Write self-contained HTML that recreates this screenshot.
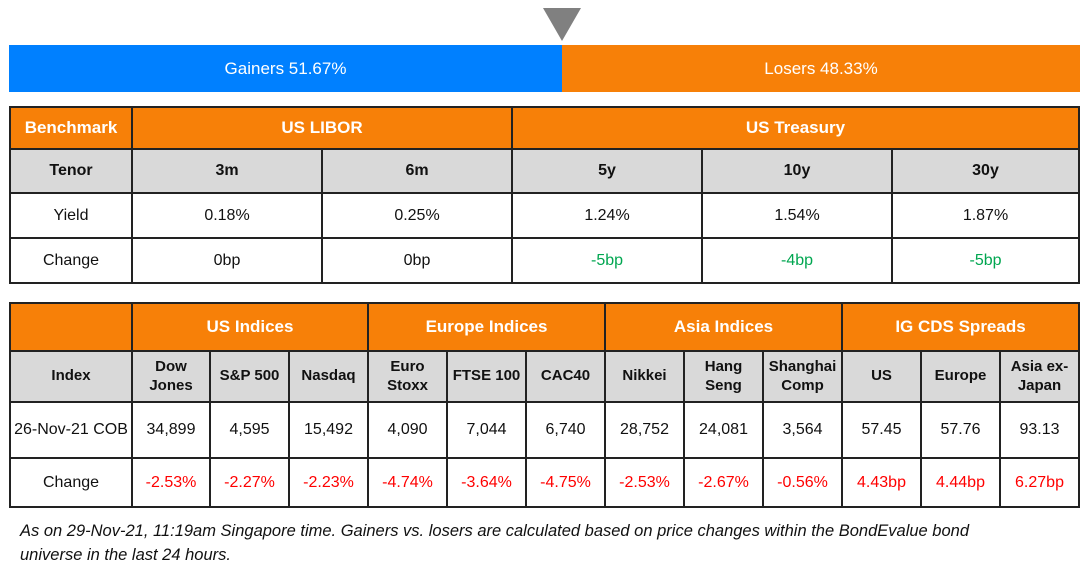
<!DOCTYPE html>
<html><head><meta charset="utf-8">
<style>
body{margin:0;width:1089px;height:569px;background:#fff;position:relative;overflow:hidden;font-family:"Liberation Sans",sans-serif;}
.c{position:absolute;box-sizing:border-box;display:flex;align-items:center;justify-content:center;text-align:center;font-size:16px;color:#111;line-height:1.25;}
.o{background:#f78008;color:#fff;font-weight:bold;font-size:17px;}
.g{background:#d9d9d9;font-weight:bold;}
.bd{border-right:2px solid #222;border-bottom:2px solid #222;}
.grn{color:#00a650}.red{color:#f00}
</style></head><body>
<div style="position:absolute;left:543px;top:8px;width:0;height:0;border-left:19px solid transparent;border-right:19px solid transparent;border-top:33px solid #808080;"></div>
<div class="c" style="left:9px;top:45px;width:553px;height:47px;background:#0080ff;color:#fff;font-size:17px;">Gainers 51.67%</div>
<div class="c" style="left:562px;top:45px;width:518px;height:47px;background:#f78008;color:#fff;font-size:17px;">Losers 48.33%</div>
<div id="t1" style="position:absolute;left:9px;top:106px;width:1071px;height:178px;border-left:2px solid #222;border-top:2px solid #222;box-sizing:border-box"></div>
<div id="t2" style="position:absolute;left:9px;top:302px;width:1071px;height:206px;border-left:2px solid #222;border-top:2px solid #222;box-sizing:border-box"></div>
<div style="position:absolute;left:20px;top:519px;width:1000px;font-style:italic;font-size:16.5px;line-height:24px;color:#111;">As on 29-Nov-21, 11:19am Singapore time. Gainers vs. losers are calculated based on price changes within the BondEvalue bond universe in the last 24 hours.</div>
<script>
function cell(parent,x,y,w,h,txt,cls,name){
  var el=document.createElement('div');
  el.className='c bd '+(cls||'');
  el.style.left=x+'px';el.style.top=y+'px';el.style.width=w+'px';el.style.height=h+'px';
  el.innerHTML=txt;
  
  
  parent.appendChild(el);
}
var t1=document.getElementById('t1');
var c1=[0,122,312,502,692,882,1069];
var r1=[0,42,86,131,176];
cell(t1,0,0,122,42,'Benchmark','o','header-benchmark');
cell(t1,122,0,380,42,'US LIBOR','o','header-us-libor');
cell(t1,502,0,567,42,'US Treasury','o','header-us-treasury');
var rows1=[['Tenor','3m','6m','5y','10y','30y'],['Yield','0.18%','0.25%','1.24%','1.54%','1.87%'],['Change','0bp','0bp','-5bp','-4bp','-5bp']];
for(var r=0;r<3;r++)for(var i=0;i<6;i++){
  var cls=r==0?'g':(r==2&&i>=3?'grn':'');
  cell(t1,c1[i],r1[r+1],c1[i+1]-c1[i],r1[r+2]-r1[r+1],rows1[r][i],cls,'rates-cell-'+r+'-'+i);
}
var t2=document.getElementById('t2');
var c2=[0,122,200,279,358,437,516,595,674,753,832,911,990,1069];
var r2=[0,48,99,155,204];
cell(t2,0,0,122,48,'','o','header-blank');
var groups=['US Indices','Europe Indices','Asia Indices','IG CDS Spreads'];
for(var g=0;g<4;g++){cell(t2,c2[1+g*3],0,c2[4+g*3]-c2[1+g*3],48,groups[g],'o','group-header-'+g);}
var rows2=[['Index','Dow<br>Jones','S&amp;P 500','Nasdaq','Euro<br>Stoxx','FTSE 100','CAC40','Nikkei','Hang<br>Seng','Shanghai<br>Comp','US','Europe','Asia ex-<br>Japan'],
['26-Nov-21 COB','34,899','4,595','15,492','4,090','7,044','6,740','28,752','24,081','3,564','57.45','57.76','93.13'],
['Change','-2.53%','-2.27%','-2.23%','-4.74%','-3.64%','-4.75%','-2.53%','-2.67%','-0.56%','4.43bp','4.44bp','6.27bp']];
for(var r=0;r<3;r++)for(var i=0;i<13;i++){
  var cls=r==0?'g':(r==2&&i>0?'red':'');
  cell(t2,c2[i],r2[r+1],c2[i+1]-c2[i],r2[r+2]-r2[r+1],rows2[r][i],cls,'index-cell-'+r+'-'+i);
}
document.querySelectorAll('#t2 .g').forEach(function(e){e.style.fontSize='15px';});
</script>
</body></html>
